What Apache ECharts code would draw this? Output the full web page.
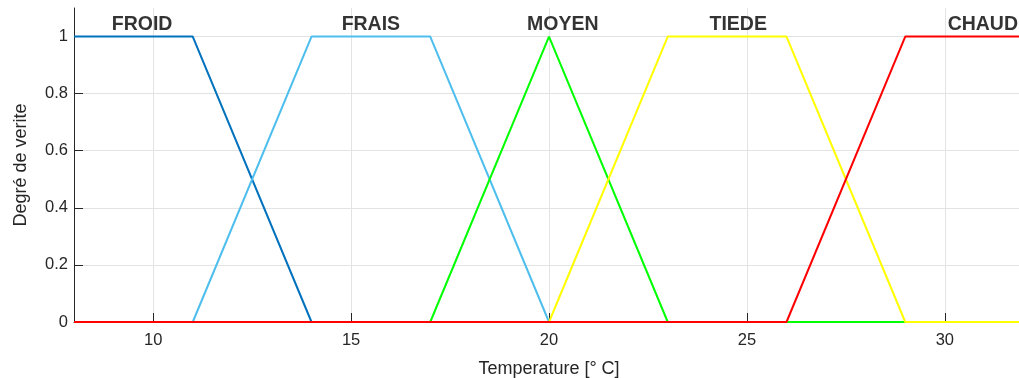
<!DOCTYPE html>
<html>
<head>
<meta charset="utf-8">
<script src="https://cdn.jsdelivr.net/npm/echarts@6/dist/echarts.min.js"></script>
<style>html,body{margin:0;padding:0;background:#fff;}#c{width:1019px;height:378px;}</style>
</head>
<body>
<div id="c"></div>
<script>
const xPoints = [8, 11, 14, 17, 20, 23, 26, 29, 32];
const froid = [1, 1, 0, 0, 0, 0, 0, 0, 0];
const frais = [0, 0, 1, 1, 0, 0, 0, 0, 0];
const moyen = [0, 0, 0, 0, 1, 0, 0, 0, 0];
const tiede = [0, 0, 0, 0, 0, 1, 1, 0, 0];
const chaud = [0, 0, 0, 0, 0, 0, 0, 1, 1];
const seriesNames = ['FROID', 'FRAIS', 'MOYEN', 'TIEDE', 'CHAUD'];
const labelX = [9.72, 15.5, 20.35, 24.78, 30.96];
const labelY = 1.043;
const xTicks = [10, 15, 20, 25, 30];
const yTicks = [0, 0.2, 0.4, 0.6, 0.8, 1];
const colors = ['#0072BD', '#4DBEEE', '#00FF00', '#FFFF00', '#FF0000'];

const values = [froid, frais, moyen, tiede, chaud];
const font = '"Liberation Sans", Arial, Helvetica, sans-serif';

const series = values.map((v, i) => ({
  name: seriesNames[i],
  type: 'line',
  data: xPoints.map((x, j) => [x, v[j]]),
  symbol: 'none',
  lineStyle: { color: colors[i], width: 2 },
  itemStyle: { color: colors[i] },
  clip: true,
  animation: false,
  z: 3 + i
}));

series.push({
  type: 'scatter',
  symbolSize: 0,
  data: seriesNames.map((n, i) => ({ value: [labelX[i], labelY], name: n })),
  label: {
    show: true,
    position: 'inside',
    formatter: p => p.name,
    fontFamily: font,
    fontWeight: 'bold',
    fontSize: 19.5,
    color: '#000000',
    textBorderWidth: 0
  },
  clip: false,
  silent: true,
  animation: false,
  z: 10
});

const chart = echarts.init(document.getElementById('c'), null, { renderer: 'canvas' });
chart.setOption({
  animation: false,
  backgroundColor: '#fff',
  grid: { left: 74, top: 8, bottom: 56, right: -5, containLabel: false, outerBoundsMode: 'none' },
  xAxis: {
    type: 'value',
    min: 8,
    max: 32,
    name: 'Temperature [° C]',
    nameLocation: 'middle',
    nameGap: 38,
    nameTextStyle: { fontFamily: font, fontSize: 18, color: '#262626' },
    axisLine: { show: true, onZero: false, lineStyle: { color: '#262626', width: 1 } },
    axisTick: { show: true, inside: true, length: 9, customValues: xTicks, lineStyle: { color: '#262626' } },
    axisLabel: { customValues: xTicks, fontFamily: font, fontSize: 16.5, color: '#262626', margin: 10 },
    splitLine: { show: true, lineStyle: { color: '#e3e3e3', width: 1 } }
  },
  yAxis: {
    type: 'value',
    min: 0,
    max: 1.1,
    name: 'Degré de verite',
    nameLocation: 'middle',
    nameGap: 44,
    nameTextStyle: { fontFamily: font, fontSize: 18, color: '#262626' },
    axisLine: { show: true, lineStyle: { color: '#262626', width: 1 } },
    axisTick: { show: true, inside: true, length: 9, customValues: yTicks, lineStyle: { color: '#262626' } },
    axisLabel: { customValues: yTicks, fontFamily: font, fontSize: 16.5, color: '#262626', margin: 6 },
    splitLine: { show: true, lineStyle: { color: '#e3e3e3', width: 1 } }
  },
  series: series
});
</script>
</body>
</html>
